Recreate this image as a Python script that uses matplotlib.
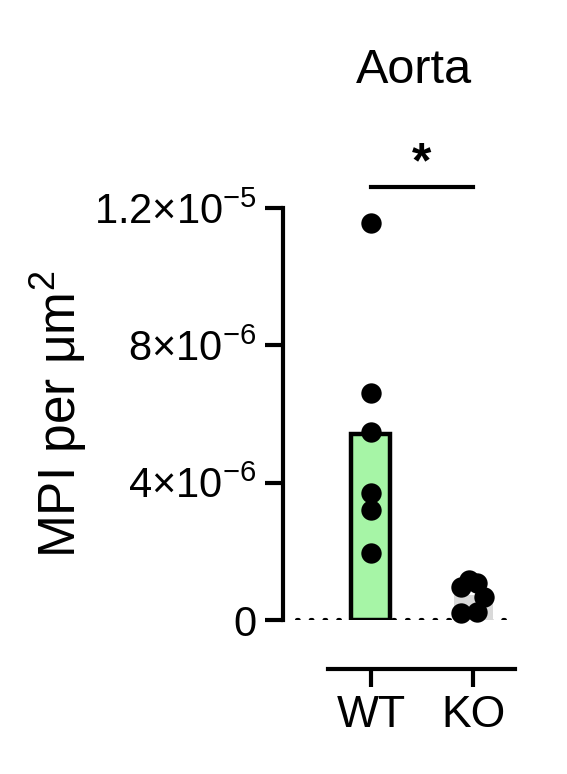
import matplotlib
matplotlib.use("Agg")
import matplotlib.pyplot as plt
import numpy as np

# data
groups = ["WT", "KO"]
wt_values = [1.157e-5, 6.6e-6, 5.47e-6, 3.69e-6, 3.2e-6, 1.94e-6]
ko_values = [0.97e-6, 1.17e-6, 1.08e-6, 0.68e-6, 0.24e-6, 0.20e-6]
ko_offsets = [-0.12, -0.04, 0.04, 0.11, 0.04, -0.12]
yticks = [0, 4e-6, 8e-6, 1.2e-5]
ytick_labels = [r"$0$", r"$4{\times}10^{-6}$", r"$8{\times}10^{-6}$", r"$1.2{\times}10^{-5}$"]
bar_colors = ["#a6f5a6", "#d9d9d9"]
bar_edges = ["black", "none"]
sig_y = 1.26e-5

plt.rcParams['font.family'] = ['Liberation Sans', 'DejaVu Sans']
plt.rcParams['mathtext.fontset'] = 'custom'
plt.rcParams['mathtext.rm'] = 'Liberation Sans'
plt.rcParams['mathtext.it'] = 'Liberation Sans'

fig = plt.figure(figsize=(5.67, 7.74), dpi=100)
ax = fig.add_axes([283/567, 1 - 620/774, (515-283)/567, (620-208)/774])

x = np.arange(len(groups))
means = [np.mean(wt_values), np.mean(ko_values)]
ax.bar(x, means, width=0.38, color=bar_colors, edgecolor=bar_edges,
       linewidth=3.2, zorder=2)

ax.scatter(np.full(len(wt_values), x[0]), wt_values, s=215, color="black",
           zorder=3, clip_on=False, linewidths=0)
ax.scatter(x[1] + np.array(ko_offsets), ko_values, s=215, color="black",
           zorder=3, clip_on=False, linewidths=0)

# dotted zero line
ax.axhline(0, xmin=0.06, xmax=0.975, color="black", linestyle=(0, (0.4, 2.9)),
           linewidth=3, dash_capstyle="round", zorder=1)

ax.set_xlim(-0.86, 1.41)
ax.set_ylim(0, 1.2e-5)

for s in ["top", "right"]:
    ax.spines[s].set_visible(False)
ax.spines["left"].set_linewidth(3)
ax.spines["bottom"].set_linewidth(3)
ax.spines["bottom"].set_position(("outward", 35))
ax.spines["bottom"].set_bounds(-0.42, 1.41)

ax.set_yticks(yticks)
ax.set_yticklabels(ytick_labels)
ax.set_xticks(x)
ax.set_xticklabels(groups)
ax.tick_params(axis="y", length=13, width=3, labelsize=30, pad=6)
ax.tick_params(axis="x", length=13, width=3, labelsize=32, pad=6)

ax.set_ylabel("MPI per μm$^2$", fontsize=37, labelpad=3)
fig.text(414/567, 1 - 83/774, "Aorta", fontsize=35, ha="center", va="baseline")

# significance bar
ax.plot([0, 1], [sig_y, sig_y], color="black", linewidth=3, clip_on=False)
ax.text(0.5, sig_y, "*", fontsize=36, fontweight="bold", ha="center",
        va="bottom")

fig.savefig("out.png", dpi=100)
